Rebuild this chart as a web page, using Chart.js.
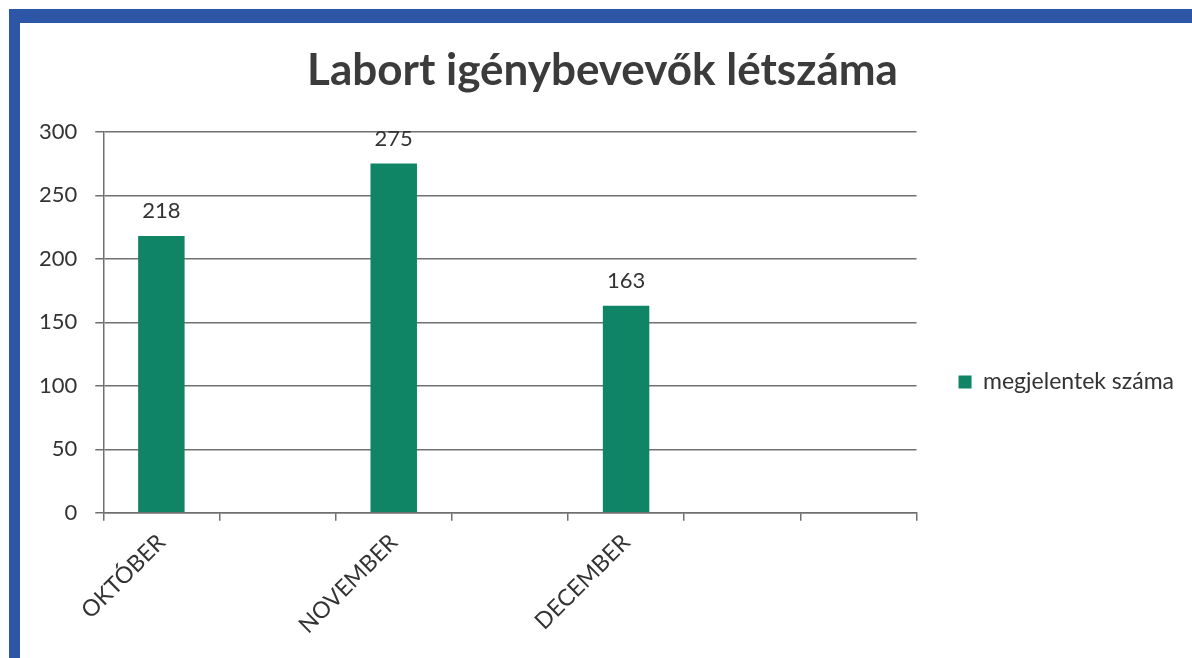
<!DOCTYPE html>
<html>
<head>
<meta charset="utf-8">
<script src="https://cdn.jsdelivr.net/npm/chart.js@4/dist/chart.umd.min.js"></script>
<style>
  html, body { margin: 0; padding: 0; background: #ffffff; overflow: hidden; }
  body { width: 1192px; height: 658px; position: relative; }
  #frame { position: absolute; left: 9px; top: 9px; width: 1200px; height: 700px;
           border-left: 11px solid #2d56a6; border-top: 14px solid #2d56a6; }
  #wrap { position: absolute; left: 20px; top: 23px; width: 1176px; height: 635px; }
</style>
</head>
<body>
<div id="frame"></div>
<div id="wrap"><canvas id="c"></canvas></div>
<script>
const chartTitle = 'Labort igénybevevők létszáma';
const categories = ['OKTÓBER', '', 'NOVEMBER', '', 'DECEMBER', '', ''];
const seriesName = 'megjelentek száma';
const seriesValues = [218, null, 275, null, 163, null, null];
const yTicks = [0, 50, 100, 150, 200, 250, 300];

const FONT = 'Lato, "Open Sans", "DejaVu Sans", sans-serif';
const BAR = '#0f8566';
const GRID = '#707070';
const TEXT = '#333333';

const valueLabels = {
  id: 'valueLabels',
  afterDatasetsDraw(chart) {
    const ctx = chart.ctx;
    ctx.save();
    ctx.font = '22px ' + FONT;
    ctx.fillStyle = TEXT;
    ctx.textAlign = 'center';
    ctx.textBaseline = 'alphabetic';
    chart.data.datasets.forEach((ds, di) => {
      chart.getDatasetMeta(di).data.forEach((bar, i) => {
        const v = ds.data[i];
        if (v === null || v === undefined) return;
        ctx.fillText(String(v), bar.x, bar.y - 18);
      });
    });
    ctx.restore();
  }
};

new Chart(document.getElementById('c'), {
  type: 'bar',
  data: {
    labels: categories,
    datasets: [{
      label: seriesName,
      data: seriesValues,
      backgroundColor: BAR,
      borderWidth: 0,
      categoryPercentage: 0.8,
      barPercentage: 0.5
    }]
  },
  options: {
    responsive: true,
    maintainAspectRatio: false,
    animation: false,
    layout: { padding: { left: 1, right: 12, top: 0, bottom: 11 } },
    plugins: {
      title: {
        display: true,
        text: chartTitle,
        color: '#3b3b3b',
        font: { family: FONT, size: 44, weight: 'bold' },
        padding: { top: 21, bottom: 35 }
      },
      legend: {
        display: true,
        position: 'right',
        fullSize: false,
        title: { display: true, text: ' ', padding: { top: 0, bottom: 105 }, font: { size: 12 } },
        labels: {
          boxWidth: 13,
          boxHeight: 13,
          padding: 42,
          color: TEXT,
          font: { family: FONT, size: 23 }
        }
      },
      tooltip: { enabled: false }
    },
    scales: {
      x: {
        afterFit(scale) { scale.paddingLeft = 0; },
        grid: { display: true, offset: true, drawOnChartArea: false, drawTicks: true, tickLength: 8, color: GRID, lineWidth: 1.5 },
        border: { display: true, color: GRID, width: 1.5 },
        ticks: {
          autoSkip: false,
          minRotation: 45,
          maxRotation: 45,
          color: TEXT,
          padding: 8,
          font: { family: FONT, size: 23 }
        }
      },
      y: {
        min: 0,
        max: 300,
        afterBuildTicks(scale) { scale.ticks = yTicks.map(v => ({ value: v })); },
        grid: { display: true, drawTicks: true, tickLength: 8, color: GRID, lineWidth: 1.5 },
        border: { display: true, color: GRID, width: 1.5 },
        ticks: {
          color: TEXT,
          padding: 18,
          font: { family: FONT, size: 22 }
        }
      }
    }
  },
  plugins: [valueLabels]
});
</script>
</body>
</html>
